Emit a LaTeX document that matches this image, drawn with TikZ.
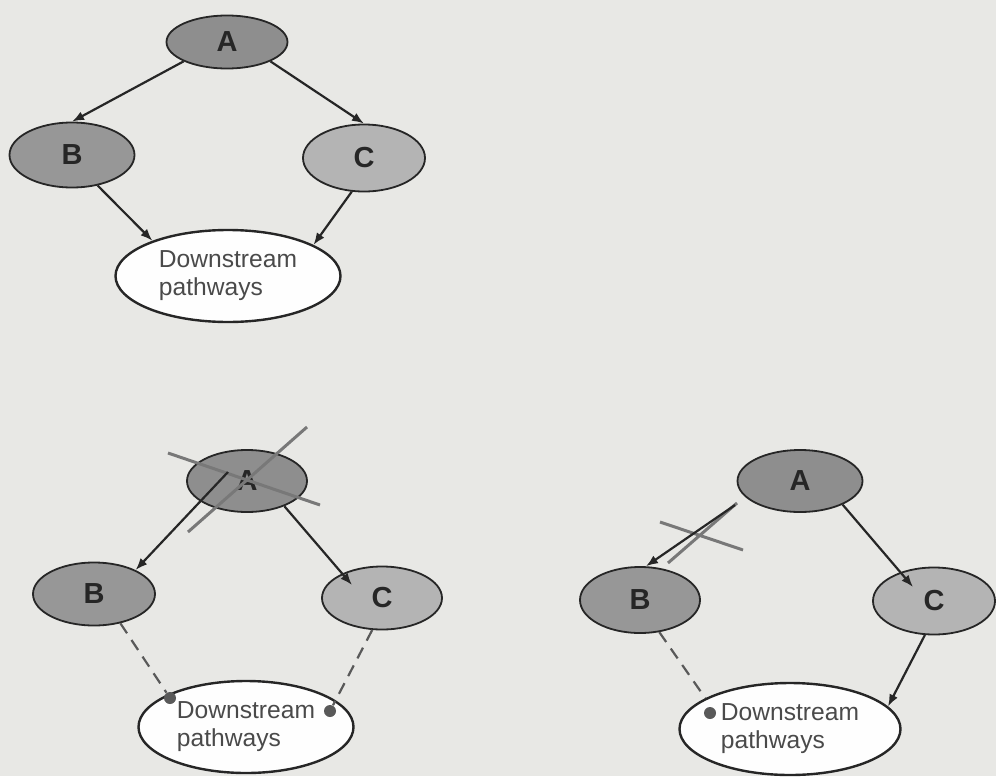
\documentclass[tikz,border=0pt]{standalone}
\usepackage{fontspec}
\setmainfont{Liberation Sans}
\usetikzlibrary{positioning,arrows.meta,calc,shapes.geometric}
\definecolor{paper}{HTML}{E8E8E5}
\definecolor{shadeA}{HTML}{8E8E8E}
\definecolor{shadeB}{HTML}{979797}
\definecolor{shadeC}{HTML}{B4B4B4}
\definecolor{inkgrey}{HTML}{4A4A4A}
\definecolor{cutgrey}{HTML}{787878}

\begin{document}
\begin{tikzpicture}[x=0.5pt,y=-0.5pt,
 var/.style={ellipse,draw=black!85,line width=0.9pt,inner sep=0pt,
   minimum width=61pt,minimum height=32pt,
   font=\fontsize{14.5}{16}\selectfont\bfseries,text=black!85},
 sink/.style={ellipse,draw=black!85,line width=1.2pt,fill=white!96!paper,inner sep=0pt,
   minimum width=111pt,minimum height=46pt,align=left,
   font=\fontsize{12.3}{14}\selectfont,text=inkgrey},
 link/.style={-{Latex[length=6pt,width=4.6pt]},line width=1.1pt,black!85},
 weak/.style={line width=1.1pt,black!65,dash pattern=on 6pt off 4pt},
 hit/.style={circle,fill=black!65,inner sep=0pt,minimum size=6pt},
 cut/.style={line width=1.5pt,cutgrey}]
\fill[paper] (0,0) rectangle (996,776);
% Panel 1: full pathway.
\node[var,fill=shadeA,minimum width=60.5pt,minimum height=26.5pt] (a1) at (227,42) {A};
\node[var,fill=shadeB,minimum width=62.5pt,minimum height=32.5pt] (b1) at (72,155) {B};
\node[var,fill=shadeC,minimum height=33.5pt] (c1) at (364,158) {C};
\node[sink,minimum width=112.5pt] (d1) at (228,276) {Downstream\\pathways};
\draw[link] (a1.south west) -- (b1.north);
\draw[link] (a1.south east) -- (c1.north);
\draw[link] (b1.-50) -- (d1.155);
\draw[link] (c1.250) -- (d1.20);
% Panel 2: A knocked out, B and C lose their effect.
\node[var,fill=shadeA,minimum width=60pt,minimum height=31pt] (a2) at (247,481) {A};
\node[var,fill=shadeB,minimum height=31.5pt] (b2) at (94,594) {B};
\node[var,fill=shadeC,minimum width=60pt,minimum height=31.5pt] (c2) at (382,598) {C};
\node[sink,minimum width=107.5pt] (d2) at (246,727) {Downstream\\pathways};
\node[hit] (p2) at ([shift={(-76,-29)}]d2.center) {};
\node[hit] (q2) at ([shift={(84,-16)}]d2.center) {};
\draw[cut] (168,453) -- (320,505);
\draw[cut] (307,427) -- (188,532);
\draw[link] ([shift={(-19,-9)}]a2.center) -- (b2.30);
\draw[link] (a2.-34) -- ([shift={(-30,-13)}]c2.center);
\draw[weak] (b2.-48) -- (p2);
\draw[weak] (c2.253) -- (q2);
% Panel 3: only the A to B step is blocked.
\node[var,fill=shadeA,minimum width=62.5pt,minimum height=31pt] (a3) at (800,481) {A};
\node[var,fill=shadeA!92!white,minimum width=60pt,minimum height=33pt] (b3) at (640,600) {B};
\node[var,fill=shadeC,minimum height=33.5pt] (c3) at (934,601) {C};
\node[sink,minimum width=110.5pt] (d3) at (790,729) {Downstream\\pathways};
\node[hit] (p3) at ([shift={(-80,-16)}]d3.center) {};
\draw[cut] (737,503) -- (668,563);
\draw[cut] (660,522) -- (743,550);
\draw[link] ([shift={(-65,24)}]a3.center) -- (b3.80);
\draw[link] (a3.-29) -- ([shift={(-21,-14)}]c3.center);
\draw[weak] (b3.-59) -- (d3.160);
\draw[link] (c3.255) -- (d3.13);
\end{tikzpicture}
\end{document}
